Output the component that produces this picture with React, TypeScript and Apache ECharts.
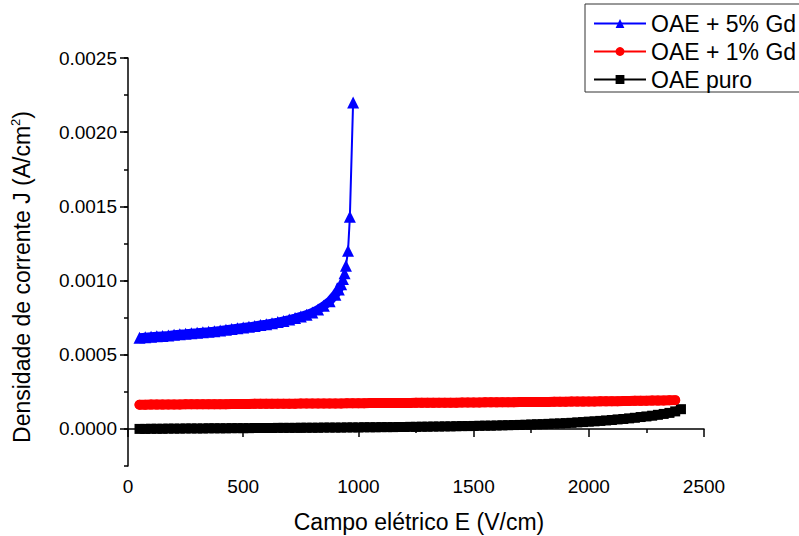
import React, { useEffect, useRef } from "react";
import * as echarts from "echarts";

// Campo elétrico E (V/cm) and Densidade de corrente J (A/cm²)
const seriesNames = ["OAE + 5% Gd", "OAE + 1% Gd", "OAE puro"];

const blueX = [
  50, 75, 100, 125, 150, 175, 200, 225, 250, 275, 300, 325, 350, 375, 400, 425, 450, 475, 500, 525,
  550, 575, 600, 625, 650, 675, 700, 725, 750, 775, 800, 825, 850, 875, 900, 915, 925, 933, 940, 946,
  955, 963, 977,
];
const blueJ = [
  0.000615, 0.000618, 0.000621, 0.000624, 0.000627, 0.00063, 0.000634, 0.000638, 0.000641, 0.000645,
  0.000648, 0.000652, 0.000655, 0.000659, 0.000663, 0.000668, 0.000673, 0.000678, 0.000683, 0.000688,
  0.000694, 0.0007, 0.000706, 0.000713, 0.00072, 0.000728, 0.000737, 0.000747, 0.000758, 0.00077,
  0.000785, 0.000805, 0.00083, 0.00086, 0.000905, 0.00094, 0.000975, 0.00101, 0.00105, 0.0011,
  0.0012, 0.00143, 0.0022,
];
// number of leading blue points that form the dense band
const blueBandCount = 37;

const fieldX = [
  50, 75, 100, 125, 150, 175, 200, 225, 250, 275, 300, 325, 350, 375, 400, 425, 450, 475, 500, 525,
  550, 575, 600, 625, 650, 675, 700, 725, 750, 775, 800, 825, 850, 875, 900, 925, 950, 975, 1000, 1025,
  1050, 1075, 1100, 1125, 1150, 1175, 1200, 1225, 1250, 1275, 1300, 1325, 1350, 1375, 1400, 1425, 1450,
  1475, 1500, 1525, 1550, 1575, 1600, 1625, 1650, 1675, 1700, 1725, 1750, 1775, 1800, 1825, 1850, 1875,
  1900, 1925, 1950, 1975, 2000, 2025, 2050, 2075, 2100, 2125, 2150, 2175, 2200, 2225, 2250, 2275, 2300,
  2325, 2350, 2375, 2400,
];

const redJ = [
  0.000163, 0.000163, 0.000164, 0.000164, 0.000164, 0.000165, 0.000165, 0.000165, 0.000166, 0.000166,
  0.000166, 0.000166, 0.000167, 0.000167, 0.000167, 0.000167, 0.000168, 0.000168, 0.000168, 0.000168,
  0.000169, 0.000169, 0.000169, 0.000169, 0.00017, 0.00017, 0.00017, 0.00017, 0.000171, 0.000171,
  0.000171, 0.000171, 0.000172, 0.000172, 0.000172, 0.000172, 0.000173, 0.000173, 0.000173, 0.000173,
  0.000174, 0.000174, 0.000174, 0.000174, 0.000175, 0.000175, 0.000175, 0.000175, 0.000176, 0.000176,
  0.000176, 0.000176, 0.000177, 0.000177, 0.000177, 0.000177, 0.000178, 0.000178, 0.000178, 0.000178,
  0.000179, 0.000179, 0.000179, 0.00018, 0.00018, 0.00018, 0.000181, 0.000181, 0.000181, 0.000182,
  0.000182, 0.000182, 0.000183, 0.000183, 0.000183, 0.000184, 0.000184, 0.000184, 0.000185, 0.000185,
  0.000186, 0.000186, 0.000187, 0.000187, 0.000188, 0.000188, 0.000189, 0.000189, 0.00019, 0.000191,
  0.000191, 0.000192, 0.000193, 0.000194,
];

const blackJ = [
  0.0, 0.0, 0.000001, 0.000001, 0.000001, 0.000002, 0.000002, 0.000002, 0.000003, 0.000003,
  0.000003, 0.000003, 0.000004, 0.000004, 0.000004, 0.000004, 0.000005, 0.000005, 0.000005, 0.000005,
  0.000006, 0.000006, 0.000006, 0.000006, 0.000007, 0.000007, 0.000007, 0.000007, 0.000008, 0.000008,
  0.000008, 0.000008, 0.000009, 0.000009, 0.000009, 0.000009, 0.00001, 0.00001, 0.00001, 0.000011,
  0.000011, 0.000011, 0.000012, 0.000012, 0.000012, 0.000013, 0.000013, 0.000014, 0.000014, 0.000015,
  0.000015, 0.000016, 0.000016, 0.000017, 0.000017, 0.000018, 0.000019, 0.000019, 0.00002, 0.000021,
  0.000022, 0.000022, 0.000023, 0.000024, 0.000025, 0.000026, 0.000027, 0.000028, 0.00003, 0.000031,
  0.000032, 0.000034, 0.000036, 0.000037, 0.000039, 0.000041, 0.000044, 0.000046, 0.000049, 0.000051,
  0.000054, 0.000057, 0.00006, 0.000064, 0.000067, 0.000071, 0.000075, 0.00008, 0.000084, 0.000089,
  0.000095, 0.000101, 0.000108, 0.000118, 0.000133,
];

const yTickMin = 0;
const yTickMax = 0.0025;
const yTickStep = 0.0005;
const xTickStep = 500;

const FONT = "'Liberation Sans', Arial, Helvetica, sans-serif";

export default function App() {
  const ref = useRef<HTMLDivElement>(null);

  useEffect(() => {
    if (!ref.current) return;
    const chart = echarts.init(ref.current, undefined, { renderer: "svg" });

    const pairs = (xs: number[], ys: number[]) => ys.map((y, i) => [xs[i], y]);

    const axisLineStyle = { color: "#000", width: 1.5 };

    const band = (name: string, data: number[][], color: string, width: number, cap: string) => ({
      name,
      type: "line",
      data,
      symbol: "none",
      silent: true,
      lineStyle: { color, width, cap, join: "round" },
      itemStyle: { color },
    });

    chart.setOption({
      animation: false,
      backgroundColor: "#fff",
      grid: [
        { left: 128, right: 95, top: 58, bottom: 70 },
        { left: 128, right: 95, top: 58, bottom: 107.1 },
      ],
      xAxis: [
        {
          type: "value",
          gridIndex: 0,
          min: 0,
          max: 2500,
          interval: xTickStep,
          axisLine: { show: true, lineStyle: axisLineStyle },
          axisTick: { show: true, length: 8, lineStyle: axisLineStyle },
          minorTick: { show: true, splitNumber: 2, length: 4, lineStyle: axisLineStyle },
          axisLabel: {
            fontSize: 19,
            fontFamily: FONT,
            color: "#000",
            margin: 11,
            formatter: (v: number) => String(v),
          },
          splitLine: { show: false },
        },
        { type: "value", gridIndex: 1, min: 0, max: 2500, show: false },
      ],
      yAxis: [
        {
          type: "value",
          gridIndex: 0,
          min: -0.00025,
          max: 0.0025,
          interval: 0.00025,
          axisLine: { show: true, lineStyle: axisLineStyle },
          axisTick: { show: true, length: 4, lineStyle: axisLineStyle },
          axisLabel: { show: false },
          splitLine: { show: false },
        },
        {
          type: "value",
          gridIndex: 1,
          min: yTickMin,
          max: yTickMax,
          interval: yTickStep,
          axisLine: { show: false },
          axisTick: { show: true, length: 8, lineStyle: axisLineStyle },
          axisLabel: {
            fontSize: 19,
            fontFamily: FONT,
            color: "#000",
            margin: 11,
            formatter: (v: number) => v.toFixed(4),
          },
          splitLine: { show: false },
        },
      ],
      legend: {
        data: seriesNames,
        orient: "vertical",
        left: 585,
        top: 4,
        itemWidth: 52,
        itemHeight: 11,
        itemGap: 5,
        padding: [8, 40, 1, 8],
        borderColor: "#333",
        borderWidth: 1,
        textStyle: { fontSize: 23, fontFamily: FONT, color: "#000" },
      },
      series: [
        band("band-puro", pairs(fieldX, blackJ), "#000000", 9, "butt"),
        {
          name: "OAE puro",
          type: "line",
          data: pairs(fieldX, blackJ),
          symbol: "rect",
          symbolSize: 10,
          showAllSymbol: true,
          itemStyle: { color: "#000000" },
          lineStyle: { color: "#000000", width: 2 },
        },
        band("band-1", pairs(fieldX, redJ), "#ff0000", 10, "round"),
        {
          name: "OAE + 1% Gd",
          type: "line",
          data: pairs(fieldX, redJ),
          symbol: "circle",
          symbolSize: 10,
          showAllSymbol: true,
          itemStyle: { color: "#ff0000" },
          lineStyle: { color: "#ff0000", width: 2 },
        },
        band(
          "band-5",
          pairs(blueX.slice(0, blueBandCount), blueJ.slice(0, blueBandCount)),
          "#0000ff",
          9,
          "butt"
        ),
        {
          name: "OAE + 5% Gd",
          type: "line",
          data: pairs(blueX, blueJ),
          symbol: "triangle",
          symbolSize: 12,
          showAllSymbol: true,
          itemStyle: { color: "#0000ff" },
          lineStyle: { color: "#0000ff", width: 2 },
        },
      ],
      graphic: [
        {
          type: "text",
          x: 419,
          y: 522,
          style: {
            text: "Campo elétrico E (V/cm)",
            fontSize: 23,
            fontFamily: FONT,
            fill: "#000",
            align: "center",
            verticalAlign: "middle",
          },
        },
        {
          type: "text",
          x: 22,
          y: 277,
          rotation: Math.PI / 2,
          style: {
            text: "{a|Densidade de corrente J (A/cm}{s|2}{a|)}",
            rich: {
              a: { fontSize: 23, fontFamily: FONT, fill: "#000", lineHeight: 27 },
              s: { fontSize: 13, fontFamily: FONT, fill: "#000", lineHeight: 27, verticalAlign: "top" },
            },
            align: "center",
            verticalAlign: "middle",
          },
        },
      ],
    });

    return () => chart.dispose();
  }, []);

  return (
    <div
      ref={ref}
      style={{ position: "fixed", left: 0, top: 0, width: 799, height: 536, background: "#fff" }}
    />
  );
}
